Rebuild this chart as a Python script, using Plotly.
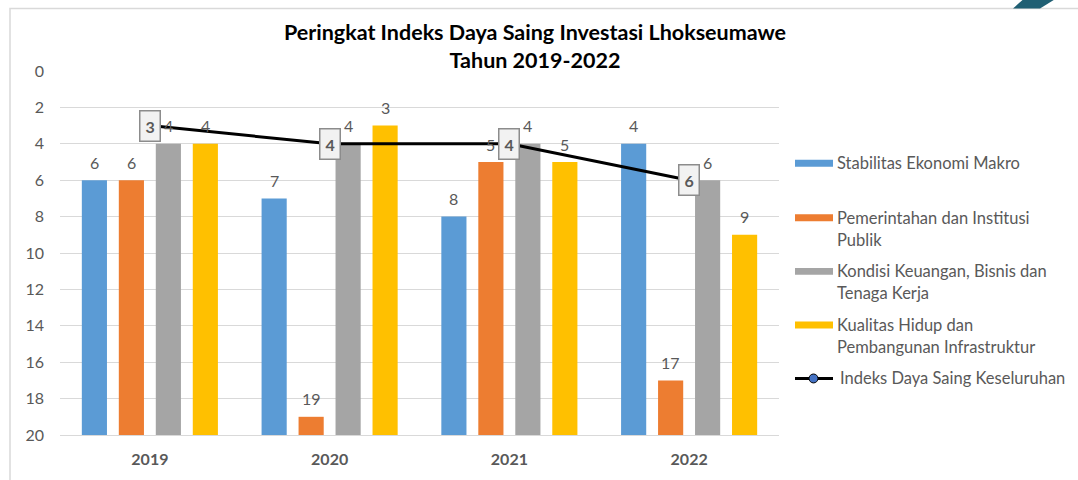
import plotly.graph_objects as go

# ---- data ----
years = ["2019", "2020", "2021", "2022"]
stabilitas = [6, 7, 8, 4]
pemerintahan = [6, 19, 5, 17]
kondisi = [4, 4, 4, 6]
kualitas = [4, 3, 5, 9]
keseluruhan = [3, 4, 4, 6]

series_names = [
    "Stabilitas Ekonomi Makro",
    "Pemerintahan dan Institusi Publik",
    "Kondisi Keuangan, Bisnis dan Tenaga Kerja",
    "Kualitas Hidup dan Pembangunan Infrastruktur",
]
line_name = "Indeks Daya Saing Keseluruhan"
colors = ["#5B9BD5", "#ED7D31", "#A5A5A5", "#FFC000"]

FONT = "Lato"
TXT = "#595959"
W, H = 1078, 480
L, R, T, B = 60, 779, 71, 438  # plot area in pixels
Y_MAX = 20
BARGAP, BARGROUPGAP = 0.177, 0.32


def px_x(px):
    return (px - L) / (R - L)


def px_y(py):
    return (B - py) / (B - T)


fig = go.Figure()

bar_series = [stabilitas, pemerintahan, kondisi, kualitas]
n_series = len(bar_series)
cat_w = (R - L) / len(years)
slot_w = cat_w * (1 - BARGAP) / n_series

for k, (name, vals, col) in enumerate(zip(series_names, bar_series, colors)):
    fig.add_trace(go.Bar(
        x=years,
        y=[v - Y_MAX for v in vals],
        base=[Y_MAX] * len(vals),
        name=name,
        marker=dict(color=col, line=dict(width=0)),
        showlegend=False,
        hovertemplate="%{x}: %{base}<extra></extra>",
    ))
    # value labels above each bar
    shift = (k - (n_series - 1) / 2) * slot_w
    for i, v in enumerate(vals):
        fig.add_annotation(
            x=i, y=v, xref="x", yref="y", text=str(v), showarrow=False,
            xshift=shift, yshift=18, font=dict(family=FONT, size=16, color=TXT),
        )

fig.add_trace(go.Scatter(
    x=years,
    y=keseluruhan,
    mode="lines+markers",
    name=line_name,
    line=dict(color="black", width=3),
    marker=dict(color="#4472C4", size=9, line=dict(color="black", width=1)),
    showlegend=False,
))

# boxed value labels on the overall index line
for i, v in enumerate(keseluruhan):
    fig.add_annotation(
        x=i, y=v, xref="x", yref="y", text=f"<b>{v}</b>",
        showarrow=False, font=dict(family=FONT, size=16, color=TXT),
        bgcolor="#F2F2F2", bordercolor="#8C8C8C", borderwidth=1.5, borderpad=5,
    )

# ---- legend drawn by hand ----
legend_rows = [
    (164, ["Stabilitas Ekonomi Makro"]),
    (219, ["Pemerintahan dan Institusi", "Publik"]),
    (273, ["Kondisi Keuangan, Bisnis dan", "Tenaga Kerja"]),
    (327, ["Kualitas Hidup dan", "Pembangunan Infrastruktur"]),
]
shapes = []
for (cy, lines), col in zip(legend_rows, colors):
    shapes.append(dict(type="rect", xref="paper", yref="paper",
                       x0=px_x(795), x1=px_x(833), y0=px_y(cy - 3.5), y1=px_y(cy + 3.5),
                       fillcolor=col, line=dict(width=0)))
    for i, ln in enumerate(lines):
        fig.add_annotation(x=px_x(835), y=px_y(cy + i * 22), xref="paper", yref="paper",
                           text=ln, showarrow=False, xanchor="left", yanchor="middle",
                           font=dict(family=FONT, size=16.5, color=TXT))
cy = 381
shapes.append(dict(type="line", xref="paper", yref="paper",
                   x0=px_x(795), x1=px_x(833), y0=px_y(cy), y1=px_y(cy),
                   line=dict(color="black", width=3)))
shapes.append(dict(type="circle", xref="paper", yref="paper",
                   x0=px_x(809), x1=px_x(818), y0=px_y(cy + 4.5), y1=px_y(cy - 4.5),
                   fillcolor="#4472C4", line=dict(color="black", width=1)))
fig.add_annotation(x=px_x(838), y=px_y(cy), xref="paper", yref="paper",
                   text=line_name, showarrow=False, xanchor="left", yanchor="middle",
                   font=dict(family=FONT, size=16.5, color=TXT))

# card frame and corner accent
shapes.append(dict(type="rect", xref="paper", yref="paper",
                   x0=px_x(10), x1=px_x(1090), y0=px_y(490), y1=px_y(8),
                   line=dict(color="#D9D9D9", width=1.5), fillcolor="rgba(0,0,0,0)", layer="below"))
shapes.append(dict(type="path", xref="paper", yref="paper",
                   path=f"M {px_x(1013):.4f} {px_y(8):.4f} L {px_x(1040):.4f} {px_y(8):.4f} "
                        f"L {px_x(1056):.4f} {px_y(-2):.4f} L {px_x(1024):.4f} {px_y(-2):.4f} Z",
                   fillcolor="#1F5F73", line=dict(width=0)))

fig.update_layout(
    width=W, height=H,
    margin=dict(l=L, r=W - R, t=T, b=H - B, pad=0),
    paper_bgcolor="white", plot_bgcolor="white",
    barmode="group", bargap=BARGAP, bargroupgap=BARGROUPGAP,
    font=dict(family=FONT, color=TXT),
    title=dict(
        text="<b>Peringkat Indeks Daya Saing Investasi Lhokseumawe<br>Tahun 2019-2022</b>",
        x=535 / W, xref="container", xanchor="center",
        y=1 - 40 / H, yref="container", yanchor="top",
        font=dict(family=FONT, size=21.5, color="black"),
    ),
    shapes=shapes,
    showlegend=False,
)
fig.update_yaxes(
    range=[Y_MAX, 0], dtick=2, tick0=0, autorange=False,
    showgrid=True, gridcolor="#D9D9D9", gridwidth=1,
    zeroline=False, showline=False, ticks="",
    tickfont=dict(family=FONT, size=16, color=TXT),
    ticklabelstandoff=15,
)
fig.update_xaxes(
    type="category", range=[-0.5, 3.5], autorange=False,
    showgrid=False, showline=True, linecolor="#D9D9D9", ticks="",
    tickfont=dict(family=FONT, size=16, color=TXT, weight="bold"),
    ticklabelstandoff=10,
)

fig.write_html("out.html")
